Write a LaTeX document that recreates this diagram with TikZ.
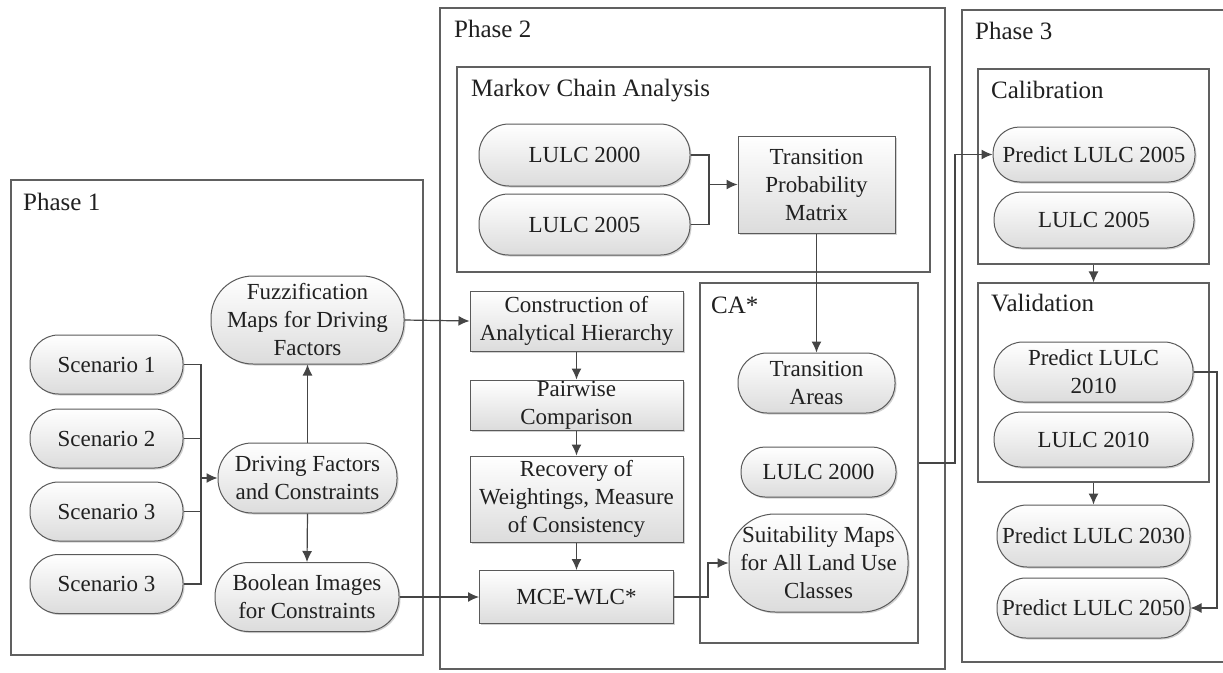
\documentclass[tikz,border=0pt]{standalone}
\usepackage{fontspec}
\setmainfont{LiberationSerif}[Extension=.ttf, UprightFont=*-Regular, BoldFont=*-Bold]
\usetikzlibrary{arrows.meta,shadows}
\definecolor{ink}{HTML}{202020}
\definecolor{nodeline}{HTML}{5A5A5A}
\definecolor{nodefill}{HTML}{DCDCDC}
\definecolor{framec}{HTML}{606060}
\definecolor{wirec}{HTML}{454545}
\begin{document}
\begin{tikzpicture}[x=1pt,y=-1pt,
  box/.style={draw=nodeline, line width=1pt, top color=white, bottom color=nodefill,
    inner sep=0pt, align=center, text=ink, font=\rmfamily\fontsize{23}{28}\selectfont,
    drop shadow={shadow xshift=1.5pt, shadow yshift=-1.5pt, fill=black, opacity=0.18}},
  pill/.style={box, rounded corners=#1},
  frame/.style={draw=framec, line width=1.2pt, inner sep=0pt, fill=white},
  lbl/.style={text=ink, font=\rmfamily\fontsize{25}{30}\selectfont, inner sep=0pt},
  wire/.style={draw=wirec, line width=1.2pt},
  arr/.style={wire, -{Latex[length=11pt,width=10pt]}},
]
\useasboundingbox (0,0) rectangle (1223,672);
\fill[white] (0,0) rectangle (1223,672);

% ---------- frames ----------
\node[frame, minimum width=412pt, minimum height=475pt] (phase1) at (217,417.5) {};
\node[frame, minimum width=505pt, minimum height=661pt] (phase2) at (692.5,338.5) {};
\draw[draw=framec, line width=1.2pt] (1224,10) -| (962,662) -- (1224,662);
\node[frame, minimum width=473pt, minimum height=205pt] (markov) at (693.5,169.5) {};
\node[frame, minimum width=218pt, minimum height=360pt] (ca) at (809,463) {};
\node[frame, minimum width=231pt, minimum height=195pt] (calib) at (1093.5,166.5) {};
\node[frame, minimum width=231pt, minimum height=199pt] (valid) at (1093.5,382.5) {};

% ---------- frame labels ----------
\node[lbl, anchor=base west] (t1) at (23,210) {Phase 1};
\node[lbl, anchor=base west] (t2) at (454,37) {Phase 2};
\node[lbl, anchor=base west] (t3) at (975,39) {Phase 3};
\node[lbl, anchor=base west] (tm) at (471,96) {Markov Chain Analysis};
\node[lbl, anchor=base west] (tca) at (711,313) {CA*};
\node[lbl, anchor=base west] (tcal) at (991,98) {Calibration};
\node[lbl, anchor=base west] (tval) at (991,311) {Validation};

% ---------- phase 1 ----------
\node[pill=28.5pt, minimum width=153pt, minimum height=59pt] (sc1) at (106.5,364.5) {Scenario 1};
\node[pill=28.5pt, minimum width=153pt, minimum height=59pt] (sc2) at (106.5,438.5) {Scenario 2};
\node[pill=28.5pt, minimum width=153pt, minimum height=59pt] (sc3) at (106.5,511.5) {Scenario 3};
\node[pill=28.5pt, minimum width=153pt, minimum height=59pt] (sc4) at (106.5,584) {Scenario 3};
\node[pill=42pt, minimum width=193pt, minimum height=88pt] (fuzz) at (307.5,320) {Fuzzification\\Maps for Driving\\Factors};
\node[pill=34pt, minimum width=179pt, minimum height=70pt] (drive) at (307.5,478) {Driving Factors\\and Constraints};
\node[pill=33.5pt, minimum width=184pt, minimum height=69pt] (bool) at (307,597) {Boolean Images\\for Constraints};

% ---------- phase 2 ----------
\node[pill=30pt, minimum width=211pt, minimum height=62pt] (mk00) at (584.5,155) {LULC 2000};
\node[pill=29.5pt, minimum width=211pt, minimum height=61pt] (mk05) at (584.5,224.5) {LULC 2005};
\node[box, minimum width=157pt, minimum height=97pt] (tpm) at (816.5,184.5) {Transition\\Probability\\Matrix};
\node[box, minimum width=213pt, minimum height=60pt] (cah) at (576.5,321) {Construction of\\Analytical Hierarchy};
\node[box, minimum width=213pt, minimum height=50pt] (pw) at (576.5,405) {Pairwise\\Comparison};
\node[box, minimum width=213pt, minimum height=86pt] (rec) at (576.5,499) {Recovery of\\Weightings, Measure\\of Consistency};
\node[box, minimum width=194pt, minimum height=53pt] (mce) at (576.5,597) {MCE-WLC*};
\node[pill=29pt, minimum width=157pt, minimum height=60pt] (ta) at (816.5,383) {Transition\\Areas};
\node[pill=24pt, minimum width=155pt, minimum height=50pt] (ca00) at (818.5,472) {LULC 2000};
\node[pill=46pt, minimum width=179pt, minimum height=98pt] (suit) at (818.5,563) {Suitability Maps\\for All Land Use\\Classes};

% ---------- phase 3 ----------
\node[pill=26.5pt, minimum width=202pt, minimum height=55pt] (p05) at (1094,154.5) {Predict LULC 2005};
\node[pill=27pt, minimum width=200pt, minimum height=56pt] (c05) at (1094,220) {LULC 2005};
\node[pill=29pt, minimum width=199pt, minimum height=60pt] (p10) at (1093.5,372) {Predict LULC\\2010};
\node[pill=26.5pt, minimum width=199pt, minimum height=55pt] (v10) at (1093.5,439.5) {LULC 2010};
\node[pill=30pt, minimum width=193pt, minimum height=62pt] (p30) at (1093.5,536) {Predict LULC 2030};
\node[pill=29pt, minimum width=193pt, minimum height=60pt] (p50) at (1093.5,608) {Predict LULC 2050};

% ---------- connectors ----------
\coordinate (bus) at (201,478);
\draw[wire] (sc1.east) -| (bus);
\draw[wire] (sc4.east) -| (bus);
\draw[wire] (sc2.east) -- (sc2.east -| bus);
\draw[wire] (sc3.east) -- (sc3.east -| bus);
\draw[arr] (bus) -- (drive.west);
\draw[arr] (drive.north) -- (fuzz.south);
\draw[arr] (drive.south) -- (bool.north);
\draw[arr] (fuzz.east) -- (cah.west);
\draw[arr] (bool.east) -- (mce.west);

\coordinate (mj) at (709,184.5);
\draw[wire] (mk00.east) -| (mj);
\draw[wire] (mk05.east) -| (mj);
\draw[arr] (mj) -- (tpm.west);
\draw[arr] (tpm.south) -- (ta.north);

\draw[arr] (cah.south) -- (pw.north);
\draw[arr] (pw.south) -- (rec.north);
\draw[arr] (rec.south) -- (mce.north);
\draw[arr] (mce.east) -- ++(34,0) |- (suit.west);

\coordinate (cax) at (955,463);
\draw[arr] (ca.east) -- (cax) |- (p05.west);
\draw[arr] (calib.south) -- (valid.north);
\draw[arr] (valid.south) -- (p30.north);
\coordinate (p10x) at (1217,372);
\draw[arr] (p10.east) -- (p10x) |- (p50.east);
\end{tikzpicture}
\end{document}
